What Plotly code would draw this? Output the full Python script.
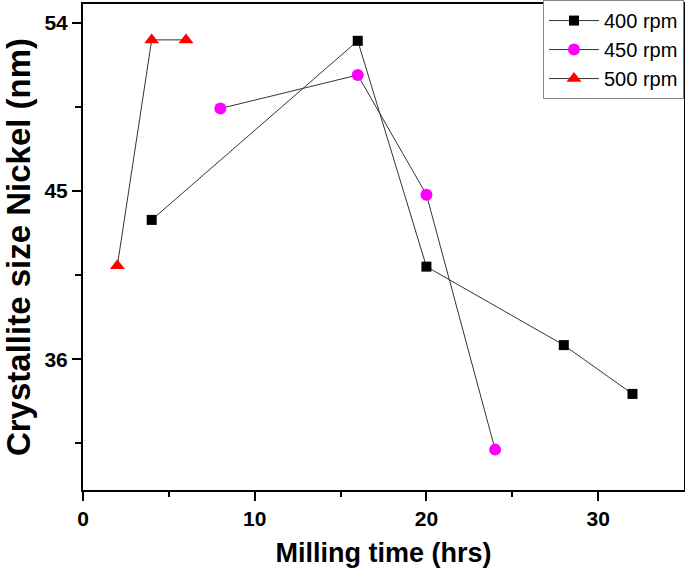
import plotly.graph_objects as go

t_400 = [4, 16, 20, 28, 32]
d_400 = [43.45, 53.03, 40.95, 36.75, 34.14]
t_450 = [8, 16, 20, 24]
d_450 = [49.41, 51.2, 44.8, 31.16]
t_500 = [2, 4, 6]
d_500 = [41.0, 53.08, 53.08]

x_ticks = [0, 10, 20, 30]
x_labels = ["0", "10", "20", "30"]
y_ticks = [36, 45, 54]
y_labels = ["36", "45", "54"]

fig = go.Figure()
line_style = dict(color="#333333", width=1)
fig.add_trace(go.Scatter(x=t_400, y=d_400, mode="lines+markers", name="400 rpm",
                         line=line_style,
                         marker=dict(symbol="square", size=10, color="black")))
fig.add_trace(go.Scatter(x=t_450, y=d_450, mode="lines+markers", name="450 rpm",
                         line=line_style,
                         marker=dict(symbol="circle", size=12, color="#FF00FF")))
fig.add_trace(go.Scatter(x=t_500, y=d_500, mode="lines+markers", name="500 rpm",
                         line=line_style,
                         marker=dict(symbol="triangle-up", size=13, color="#FF0000")))

FAM = "Liberation Sans, Arial, sans-serif"
tick_font = dict(family=FAM, size=21, color="black")

fig.update_layout(
    width=685, height=573,
    margin=dict(l=83, r=1, t=3, b=83),
    plot_bgcolor="white", paper_bgcolor="white",
    showlegend=True,
    legend=dict(x=1, y=1.006, xanchor="right", yanchor="top",
                bordercolor="#888888", borderwidth=1, bgcolor="white",
                font=dict(family=FAM, size=20, color="black"),
                tracegroupgap=0, itemwidth=50),
    xaxis=dict(range=[0, 35], tickvals=x_ticks, ticktext=["<b>%s</b>" % s for s in x_labels],
               showgrid=False, zeroline=False,
               showline=True, linecolor="black", linewidth=2, mirror=True,
               ticks="outside", ticklen=9, tickwidth=2, tickcolor="black",
               tickfont=tick_font, automargin=False,
               minor=dict(tickvals=[5, 15, 25], ticks="outside", ticklen=5, tickwidth=2, tickcolor="black", showgrid=False),
               title=dict(text="<b>Milling time (hrs)</b>", font=dict(family=FAM, size=27, color="black"), standoff=14)),
    yaxis=dict(range=[29, 55], tickvals=y_ticks, ticktext=["<b>%s</b>" % s for s in y_labels],
               showgrid=False, zeroline=False,
               showline=True, linecolor="black", linewidth=2, mirror=True,
               ticks="outside", ticklen=9, tickwidth=2, tickcolor="black",
               tickfont=tick_font, automargin=False,
               minor=dict(tickvals=[31.5, 40.5, 49.5], ticks="outside", ticklen=6, tickwidth=2, tickcolor="black", showgrid=False),
               title=dict(text="<b>Crystallite size Nickel (nm)</b>", font=dict(family=FAM, size=33, color="black"), standoff=6)),
)

fig.write_html("out.html", config={"displayModeBar": False},
               post_script="document.body.style.margin='0';document.body.style.overflow='hidden';")
